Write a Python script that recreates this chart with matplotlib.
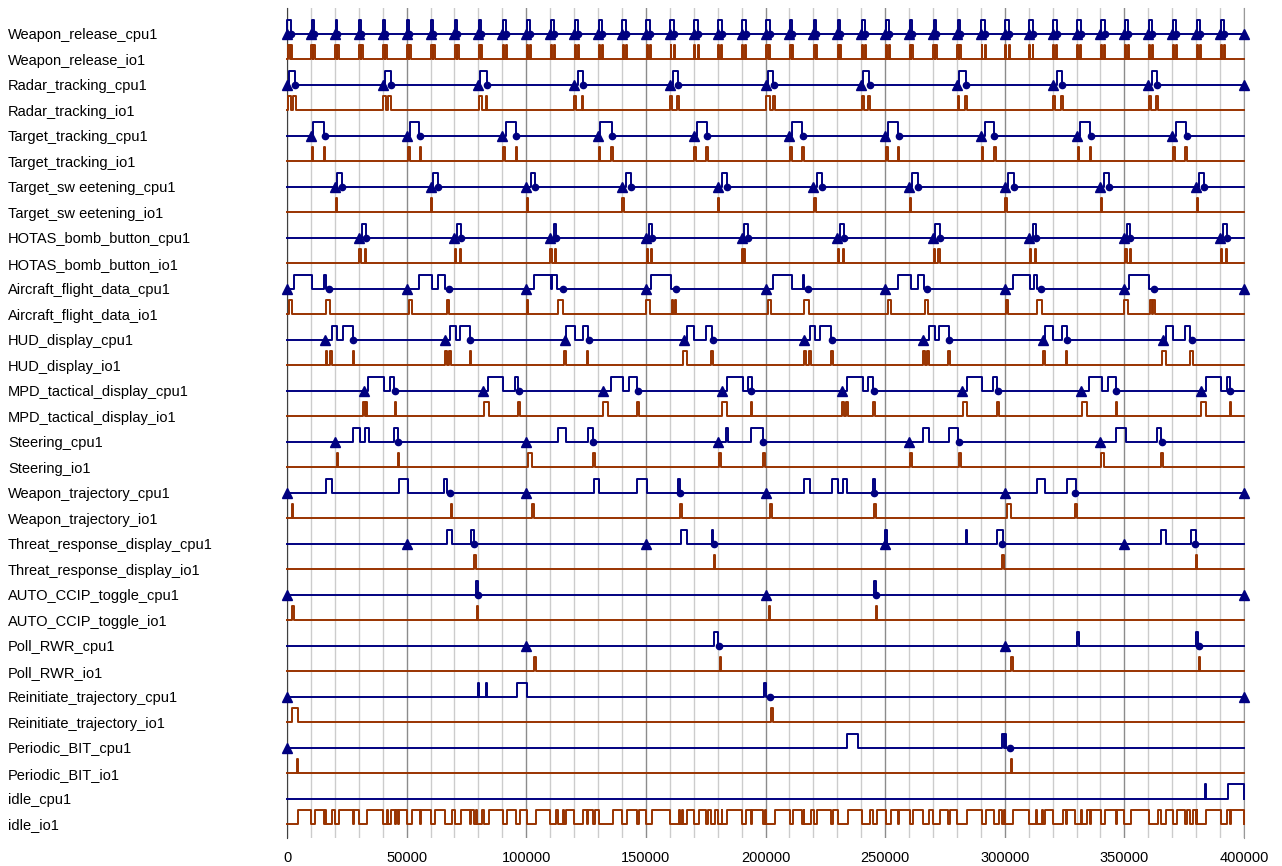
import matplotlib.pyplot as plt
from matplotlib.ticker import MultipleLocator

# ===========================
# Data (times)
# ===========================
row_names = [
    "Weapon_release_cpu1", "Weapon_release_io1",
    "Radar_tracking_cpu1", "Radar_tracking_io1",
    "Target_tracking_cpu1", "Target_tracking_io1",
    "Target_sw eetening_cpu1", "Target_sw eetening_io1",
    "HOTAS_bomb_button_cpu1", "HOTAS_bomb_button_io1",
    "Aircraft_flight_data_cpu1", "Aircraft_flight_data_io1",
    "HUD_display_cpu1", "HUD_display_io1",
    "MPD_tactical_display_cpu1", "MPD_tactical_display_io1",
    "Steering_cpu1", "Steering_io1",
    "Weapon_trajectory_cpu1", "Weapon_trajectory_io1",
    "Threat_response_display_cpu1", "Threat_response_display_io1",
    "AUTO_CCIP_toggle_cpu1", "AUTO_CCIP_toggle_io1",
    "Poll_RWR_cpu1", "Poll_RWR_io1",
    "Reinitiate_trajectory_cpu1", "Reinitiate_trajectory_io1",
    "Periodic_BIT_cpu1", "Periodic_BIT_io1",
    "idle_cpu1", "idle_io1",
]

# Weapon_release
wr_release = [0, 10000, 20000, 30000, 40000, 50000, 60000, 70000, 80000, 90000,
              100000, 110000, 120000, 130000, 140000, 150000, 160000, 170000, 180000, 190000,
              200000, 210000, 220000, 230000, 240000, 250000, 260000, 270000, 280000, 290000,
              300000, 310000, 320000, 330000, 340000, 350000, 360000, 370000, 380000, 390000, 400000]
wr_cpu = [(0, 1500), (10300, 11100), (20300, 21100), (30300, 31100), (40300, 41100),
          (50300, 51100), (60300, 61100), (70300, 71100), (80300, 81100), (90200, 91700),
          (100200, 101700), (110200, 111700), (120200, 121700), (130200, 131700), (140200, 141700),
          (150200, 151700), (160200, 161700), (170200, 171700), (180200, 181700), (190200, 191700),
          (200200, 201700), (210300, 211100), (220300, 221100), (230300, 231100), (240200, 241700),
          (250200, 251700), (260300, 261100), (270300, 271100), (280300, 281100), (290200, 291700),
          (300200, 301700), (310200, 311700), (320200, 321700), (330200, 331700), (340200, 341700),
          (350200, 351700), (360200, 361700), (370200, 371700), (380200, 381700), (390200, 391700)]
wr_done = [1500, 11100, 21100, 31100, 41100, 51100, 61100, 71100, 81100, 91700,
           101700, 111700, 121700, 131700, 141700, 151700, 161700, 171700, 181700, 191700,
           201700, 211100, 221100, 231100, 241700, 251700, 261100, 271100, 281100, 291700,
           301700, 311700, 321700, 331700, 341700, 351700, 361700, 371700, 381700, 391700]
wr_io = [(500, 1200), (1600, 2200), (10200, 10900), (11000, 11700), (20200, 20900), (21000, 21700),
         (30200, 30900), (31000, 31700), (40200, 40900), (41000, 41700), (50200, 50900), (51000, 51700),
         (60200, 60900), (61000, 61700), (70200, 70900), (71000, 71700), (80200, 80900), (81000, 81700),
         (90300, 90700), (91600, 92000), (100300, 100700), (101600, 102000), (110300, 110700), (111600, 112000),
         (120300, 120700), (121600, 122000), (130300, 130700), (131600, 132000), (140300, 140700), (141600, 142000),
         (150300, 150700), (151600, 152000), (160300, 160700), (161600, 162000), (170300, 170700), (171600, 172000),
         (180300, 180700), (181600, 182000), (190300, 190700), (191600, 192000), (200300, 200900), (201300, 201900),
         (210200, 210900), (211000, 211700), (220200, 220900), (221000, 221700), (230200, 230900), (231000, 231700),
         (240300, 240700), (241600, 242000), (250300, 250700), (251600, 252000), (260200, 260900), (261000, 261700),
         (270200, 270900), (271000, 271700), (280200, 280900), (281000, 281700), (290300, 290700), (291600, 292000),
         (300300, 300700), (301600, 302000), (310300, 310700), (311600, 312000), (320300, 320700), (321600, 322000),
         (330300, 330700), (331600, 332000), (340300, 340700), (341600, 342000), (350300, 350700), (351600, 352000),
         (360300, 360700), (361600, 362000), (370300, 370700), (371600, 372000), (380300, 380700), (381600, 382000),
         (390300, 390700), (391600, 392000)]

# Radar_tracking
rt_release = [0, 40000, 80000, 120000, 160000, 200000, 240000, 280000, 320000, 360000, 400000]
rt_cpu = [(1000, 3300), (41000, 43300), (80700, 83700), (121500, 123600), (161200, 163600),
          (201200, 203300), (240900, 243400), (281000, 283700), (321700, 323800), (361700, 363800)]
rt_done = [3400, 43400, 83700, 123700, 163600, 203400, 243500, 283700, 323800, 363800]
rt_io = [(500, 1500), (2600, 3600), (40300, 41300), (42300, 43300), (80400, 81400), (83200, 83700),
         (120000, 121000), (123200, 123900), (160100, 160900), (162900, 163700), (200100, 201900),
         (203300, 204100), (240500, 241300), (243000, 243700), (280300, 281000), (283400, 284100),
         (320300, 321200), (323400, 324300), (360300, 361200), (363300, 364000)]

# Target_tracking
tt_release = [10000, 50000, 90000, 130000, 170000, 210000, 250000, 290000, 330000, 370000]
tt_cpu = [(11000, 15600), (51400, 55300), (91500, 95600), (130800, 135700), (171200, 175400),
          (211000, 215200), (251400, 255500), (291800, 295300), (331500, 335700), (371500, 375700)]
tt_done = [15900, 55600, 95900, 136000, 175700, 215500, 255800, 295600, 336000, 376000]
tt_io = [(10300, 10900), (15400, 16000), (50500, 51300), (55400, 56000), (90300, 91100), (95600, 96300),
         (130300, 131000), (135600, 136200), (170200, 171100), (175300, 175900), (210300, 210900),
         (215400, 216000), (250300, 251100), (255400, 256000), (290500, 291100), (295600, 296200),
         (330500, 331100), (335600, 336200), (370400, 371200), (375500, 376100)]

# Target_sweetening
ts_release = [20000, 60000, 100000, 140000, 180000, 220000, 260000, 300000, 340000, 380000]
ts_cpu = [(21000, 23000), (61200, 63200), (101900, 103700), (141700, 143700), (181700, 183800),
          (221400, 223500), (261100, 263900), (301500, 303900), (341500, 343700), (381300, 383300)]
ts_done = [23000, 63200, 103700, 143700, 183800, 223500, 263900, 303900, 343700, 383300]
ts_io = [(20300, 20800), (60300, 60800), (100200, 100700), (140200, 140700), (180200, 180700),
         (220400, 220900), (260400, 260900), (300300, 300800), (340300, 340800), (380300, 380800)]

# HOTAS_bomb_button
hb_release = [30000, 70000, 110000, 150000, 190000, 230000, 270000, 310000, 350000, 390000]
hb_cpu = [(31200, 33000), (70900, 72700), (111600, 112400), (151400, 152400), (191100, 192800),
          (231200, 233000), (270900, 273000), (312000, 313100), (351300, 352400), (391400, 393100)]
hb_done = [33000, 72700, 112400, 152400, 192800, 233000, 273000, 313100, 352400, 393100]
hb_io = [(30200, 30800), (32500, 33100), (70300, 70800), (72200, 72700), (110100, 110600), (111900, 112400),
         (150300, 150800), (152200, 152700), (190100, 190600), (190900, 191400), (230300, 230800),
         (232400, 232900), (270300, 270800), (272300, 272800), (310400, 310900), (312500, 313000),
         (350400, 350900), (352300, 352800), (390300, 390800), (392400, 392900)]

# Aircraft_flight_data
af_release = [0, 50000, 100000, 150000, 200000, 250000, 300000, 350000, 400000]
af_cpu = [(2900, 10600), (15600, 16200), (55300, 60500), (63200, 66000), (103400, 110200),
          (110600, 112700), (152000, 160400), (203000, 210900), (215600, 216100), (255500, 260800),
          (263900, 266200), (303600, 310600), (312400, 313600), (352100, 360400)]
af_done = [17700, 67700, 115200, 162500, 217900, 267400, 315200, 362500]
af_io = [(1000, 2100), (16200, 18000), (51100, 52100), (66700, 67800), (100200, 100900),
         (113400, 115500), (150000, 151700), (160800, 161500), (162000, 162700), (201200, 202200),
         (216200, 218300), (251400, 252400), (266700, 268100), (300500, 301200), (313400, 315500),
         (350000, 351700), (360700, 361400), (362000, 362800)]

# HUD_display
hd_release = [16000, 66000, 116000, 166000, 216000, 266000, 316000, 366000]
hd_cpu = [(18700, 20800), (23300, 27500), (68100, 70600), (72300, 76500), (116600, 120400),
          (123900, 126000), (167100, 170200), (175100, 177500), (218600, 220700), (222800, 227400),
          (268500, 270900), (272700, 276800), (316800, 320300), (323800, 325900), (367400, 370200),
          (375400, 377500)]
hd_done = [27700, 76600, 126100, 177900, 227900, 276900, 325900, 378200]
hd_io = [(16200, 16900), (18000, 18700), (27500, 28000), (66000, 66800), (67700, 68600), (76500, 76900),
         (115800, 116600), (125300, 126000), (165700, 167300), (177200, 178200), (216100, 216800),
         (218200, 218900), (227400, 228100), (266000, 266700), (267600, 268400), (276400, 277100),
         (316100, 316800), (325600, 326200), (365900, 367400), (377500, 378600)]

# MPD_tactical_display
md_release = [32000, 82000, 132000, 182000, 232000, 282000, 332000, 382000]
md_cpu = [(34000, 40700), (43100, 44900), (84200, 90200), (95300, 96700), (135300, 140300),
          (143100, 146400), (183800, 190500), (192600, 194200), (234200, 240900), (243000, 245100),
          (284100, 290600), (295200, 296900), (335400, 340500), (343300, 346500), (384100, 390400),
          (392800, 394200)]
md_done = [45100, 97000, 146600, 194000, 245400, 297100, 346700, 394000]
md_io = [(31900, 32500), (32900, 33600), (45100, 45700), (82300, 84600), (96700, 97300),
         (132200, 134200), (146400, 147000), (182000, 184100), (193800, 194400), (231900, 232800),
         (233600, 234600), (245100, 245800), (282400, 284100), (296900, 297500), (332200, 334300),
         (346500, 346900), (382100, 384100), (394200, 394700)]

# Steering
st_release = [20000, 100000, 180000, 260000, 340000]
st_cpu = [(27500, 30500), (32600, 34400), (44900, 46500), (113400, 116600), (126000, 128100),
          (183400, 184200), (194000, 199100), (266000, 268500), (276800, 280600), (346500, 350600),
          (363600, 365300)]
st_done = [46300, 128100, 199100, 280900, 365600]
st_io = [(20800, 21500), (46600, 47000), (100900, 102300), (128100, 128600), (180700, 181300),
         (199100, 199700), (260400, 261100), (281000, 281600), (340300, 341600), (365300, 366000)]

# Weapon_trajectory
wt_release = [0, 100000, 200000, 300000, 400000]
wt_cpu = [(16200, 18700), (46800, 50400), (65800, 66800), (128500, 130400), (146400, 150300),
          (163300, 164300), (216200, 218600), (227700, 230500), (232500, 234200), (245100, 245700),
          (313400, 316800), (325900, 329800)]
wt_done = [68100, 164300, 245400, 329400]
wt_io = [(1900, 2600), (68400, 68800), (102300, 103200), (164300, 165000), (201900, 202900),
         (245400, 246100), (300800, 302500), (329400, 330100)]

# Threat_response_display
tr_release = [50000, 150000, 250000, 350000]
tr_cpu = [(67000, 68800), (76800, 78300), (164500, 167300), (177500, 178200), (250000, 250700),
          (283700, 284400), (296600, 299200), (365200, 367400), (377700, 380000)]
tr_done = [78300, 178600, 299000, 379500]
tr_io = [(78300, 78900), (178500, 179000), (299000, 299500), (379800, 380300)]

# AUTO_CCIP_toggle
ac_release = [0, 200000, 400000]
ac_cpu = [(79000, 79700), (245300, 246000)]
ac_done = [79800, 246100]
ac_io = [(2000, 3000), (79500, 80000), (201300, 201900), (246000, 246600)]

# Poll_RWR
pr_release = [100000, 300000]
pr_cpu = [(178500, 180300), (330300, 330900), (379800, 380800)]
pr_done = [180500, 381200]
pr_io = [(103400, 103900), (181000, 181500), (302800, 303300), (381000, 381500)]

# Reinitiate_trajectory
ri_release = [0, 400000]
ri_cpu = [(79800, 80400), (83200, 83800), (96100, 100300), (199500, 200200)]
ri_done = [202000]
ri_io = [(2000, 4600), (202500, 203000)]

# Periodic_BIT
pb_release = [0]
pb_cpu = [(234000, 238700), (298900, 299600), (300000, 300600)]
pb_done = [302200]
pb_io = [(4200, 4800), (302700, 303200)]

# idle
idle_cpu = [(383500, 384300), (393300, 400000)]
idle_io = [(4800, 10200), (11700, 15400), (16000, 16200), (18700, 20200), (21700, 27500),
           (28000, 30200), (33600, 40200), (41700, 42300), (43300, 45100), (45700, 46600),
           (47000, 50200), (52100, 55400), (56000, 60200), (61700, 66000), (68800, 70200),
           (72700, 76500), (76900, 78300), (78900, 79500), (81700, 82300), (84600, 90300),
           (92000, 95600), (97300, 100200), (103900, 110100), (112400, 113400), (115500, 115800),
           (116600, 120000), (123900, 125300), (126000, 128100), (128600, 130300), (136200, 140200),
           (142000, 146400), (147000, 150000), (152700, 160100), (163700, 164300), (165000, 165700),
           (167300, 170200), (172000, 175300), (175900, 177200), (179000, 180200), (182000, 182000),
           (184100, 190100), (192000, 193800), (194400, 199100), (199700, 200100), (204100, 210200),
           (211700, 215400), (216000, 216100), (218900, 220200), (221700, 227400), (228100, 230200),
           (234600, 240300), (243700, 245100), (246600, 250300), (252400, 255400), (256000, 260200),
           (261700, 266000), (268400, 270200), (272800, 276400), (277100, 280200), (284100, 290300),
           (292000, 295600), (297500, 299000), (299500, 300300), (303300, 310300), (313000, 313400),
           (315500, 316100), (316800, 320300), (324300, 325600), (326200, 329400), (332000, 332200),
           (334300, 335600), (336200, 340300), (342000, 346500), (346900, 350000), (352800, 360300),
           (364000, 365300), (367400, 370300), (372000, 375500), (376100, 377500), (378600, 379800),
           (380300, 380300), (384100, 390300), (392900, 394200), (394700, 400000)]

# (row index, pulses, releases, completions)
cpu_rows = [
    (0, wr_cpu, wr_release, wr_done), (2, rt_cpu, rt_release, rt_done),
    (4, tt_cpu, tt_release, tt_done), (6, ts_cpu, ts_release, ts_done),
    (8, hb_cpu, hb_release, hb_done), (10, af_cpu, af_release, af_done),
    (12, hd_cpu, hd_release, hd_done), (14, md_cpu, md_release, md_done),
    (16, st_cpu, st_release, st_done), (18, wt_cpu, wt_release, wt_done),
    (20, tr_cpu, tr_release, tr_done), (22, ac_cpu, ac_release, ac_done),
    (24, pr_cpu, pr_release, pr_done), (26, ri_cpu, ri_release, ri_done),
    (28, pb_cpu, pb_release, pb_done), (30, idle_cpu, [], []),
]
io_rows = [
    (1, wr_io), (3, rt_io), (5, tt_io), (7, ts_io), (9, hb_io), (11, af_io),
    (13, hd_io), (15, md_io), (17, st_io), (19, wt_io), (21, tr_io), (23, ac_io),
    (25, pr_io), (27, ri_io), (29, pb_io), (31, idle_io),
]

CPU_COLOR = "#000080"
IO_COLOR = "#993300"
PULSE_H = 0.55
T_END = 400000


def trace(pulses, base):
    xs, ys = [0], [base]
    for s, e in pulses:
        xs += [s, s, e, e]
        ys += [base, base + PULSE_H, base + PULSE_H, base]
    xs.append(T_END)
    ys.append(base)
    return xs, ys


# ===========================
# Figure
# ===========================
plt.rcParams['font.family'] = ['Liberation Sans', 'DejaVu Sans']
fig = plt.figure(figsize=(12.82, 8.66), dpi=100)
ax = fig.add_axes([287 / 1282, 1 - 838 / 866, 957 / 1282, 830 / 866])

for row, pulses, rel, done in cpu_rows:
    base = -row
    xs, ys = trace(pulses, base)
    ax.plot(xs, ys, color=CPU_COLOR, lw=1.4, zorder=3, clip_on=False)
    if rel:
        ax.plot(rel, [base] * len(rel), '^', color=CPU_COLOR, ms=6.5, zorder=4, clip_on=False)
    if done:
        ax.plot(done, [base] * len(done), 'o', color=CPU_COLOR, ms=4.5, zorder=4, clip_on=False)

for row, pulses in io_rows:
    base = -row
    xs, ys = trace(pulses, base)
    ax.plot(xs, ys, color=IO_COLOR, lw=1.4, zorder=3, clip_on=False)

ax.set_xlim(0, 400000)
ax.set_ylim(-31.55, 1.02)

ax.xaxis.set_major_locator(MultipleLocator(50000))
ax.xaxis.set_minor_locator(MultipleLocator(10000))
ax.grid(which='minor', axis='x', color='#cccccc', lw=1.0, zorder=0)
ax.grid(which='major', axis='x', color='#8c8c8c', lw=1.0, zorder=0)
ax.set_axisbelow(True)
ax.tick_params(axis='x', which='both', length=0, pad=9, labelsize=10.5)

ax.set_yticks([-i for i in range(len(row_names))])
ax.set_yticklabels(row_names)
ax.tick_params(axis='y', length=0, pad=(287 - 8) * 72 / 100, labelsize=10.5)
for lbl in ax.get_yticklabels():
    lbl.set_horizontalalignment('left')

ax.spines['top'].set_visible(False)
ax.spines['bottom'].set_visible(False)
ax.spines['left'].set_color('#404040')
ax.spines['right'].set_color('#999999')

fig.savefig("out.png", dpi=100)
